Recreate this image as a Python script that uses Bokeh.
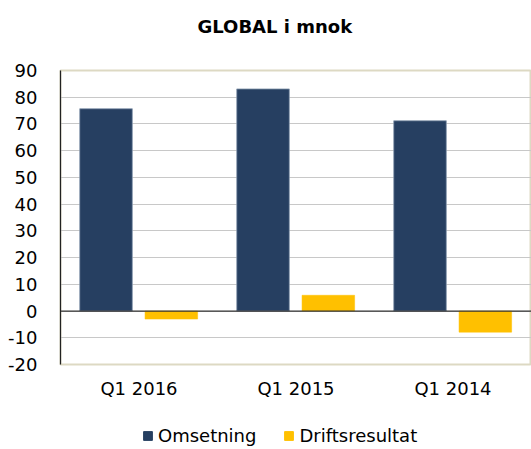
from bokeh.plotting import figure
from bokeh.layouts import column
from bokeh.models import (ColumnDataSource, FixedTicker, Span, Legend, LegendItem,
                          FactorRange, CustomJSTickFormatter, Range1d, Label)
from bokeh.transform import dodge
from bokeh.embed import file_html
from bokeh.resources import INLINE

title_text = "GLOBAL i mnok"
categories = ["Q1 2016", "Q1 2015", "Q1 2014"]
omsetning = [75.7, 83.1, 71.2]
driftsresultat = [-3.0, 5.9, -7.9]
series_names = ["Omsetning", "Driftsresultat"]
y_ticks = [-20, -10, 0, 10, 20, 30, 40, 50, 60, 70, 80, 90]

FONT = "DejaVu Sans"
NAVY = "#263F61"
YELLOW = "#FFC000"

src = ColumnDataSource(dict(cat=categories, oms=omsetning, drift=driftsresultat))
xr = FactorRange(*categories, range_padding=0, factor_padding=0)

# title strip
p0 = figure(width=531, height=52, x_range=Range1d(0, 1), y_range=Range1d(0, 1),
            output_backend="svg", toolbar_location=None,
            x_axis_location=None, y_axis_location=None, min_border=0)
p0.grid.grid_line_color = None
p0.outline_line_color = None
p0.add_layout(Label(x=137, y=26, x_units="screen", y_units="screen", text=title_text,
                    text_font=FONT, text_font_size="18px", text_font_style="bold",
                    text_color="#000000", text_align="left", text_baseline="middle"))

# main chart
p = figure(x_range=xr, y_range=(-20, 90), frame_width=471, frame_height=294,
           output_backend="svg", toolbar_location=None,
           min_border_left=60, min_border_right=0, min_border_top=18, min_border_bottom=42)

p.vbar(x=dodge("cat", -0.21, range=xr), top="oms", bottom=0, width=0.335,
       source=src, fill_color=NAVY, line_color="#8A9BB0", line_width=0.8)
p.vbar(x=dodge("cat", 0.206, range=xr), top="drift", bottom=0, width=0.335,
       source=src, fill_color=YELLOW, line_color=YELLOW, line_width=0.5)

p.add_layout(Span(location=0, dimension="width", line_color="#333333", line_width=1.2))

p.yaxis.ticker = FixedTicker(ticks=y_ticks)
p.yaxis.formatter = CustomJSTickFormatter(code="return tick.toFixed(0);")
p.yaxis.major_label_text_font = FONT
p.yaxis.major_label_text_font_size = "18px"
p.yaxis.major_label_text_color = "#000000"
p.yaxis.major_tick_line_color = None
p.yaxis.minor_tick_line_color = None
p.yaxis.axis_line_color = "#222222"
p.yaxis.axis_line_width = 1.2
p.yaxis.major_label_standoff = 17

p.xaxis.axis_line_color = None
p.xaxis.major_tick_line_color = None
p.xaxis.major_label_text_font = FONT
p.xaxis.major_label_text_font_size = "18px"
p.xaxis.major_label_text_color = "#000000"
p.xaxis.major_label_standoff = 7

p.xgrid.grid_line_color = None
p.ygrid.grid_line_color = "#C8C8C8"
p.ygrid.grid_line_width = 1.2

p.outline_line_color = "#DDD9C3"
p.outline_line_width = 2
p.background_fill_color = "white"
p.border_fill_color = "white"

# legend strip (bars drawn far outside its visible range; only legend shows)
p2 = figure(width=531, height=43, x_range=xr, y_range=Range1d(1000, 1001),
            output_backend="svg", toolbar_location=None,
            x_axis_location=None, y_axis_location=None, min_border=0)
p2.grid.grid_line_color = None
p2.outline_line_color = None
lr1 = p2.vbar(x=dodge("cat", -0.21, range=xr), top="oms", bottom=0, width=0.335,
              source=src, fill_color=NAVY, line_color=NAVY)
lr2 = p2.vbar(x=dodge("cat", 0.206, range=xr), top="drift", bottom=0, width=0.335,
              source=src, fill_color=YELLOW, line_color=YELLOW)
legend = Legend(items=[LegendItem(label=series_names[0], renderers=[lr1]),
                       LegendItem(label=series_names[1], renderers=[lr2])],
                orientation="horizontal", location=(82, 3),
                label_text_font=FONT, label_text_font_size="18px",
                label_text_color="#000000", label_height=18,
                glyph_width=11, glyph_height=11, label_standoff=5, spacing=27,
                border_line_color=None, background_fill_alpha=0,
                padding=2, margin=0)
p2.add_layout(legend)

layout = column(p0, p, p2, spacing=0)

open("out.html", "w").write(file_html(layout, INLINE))
